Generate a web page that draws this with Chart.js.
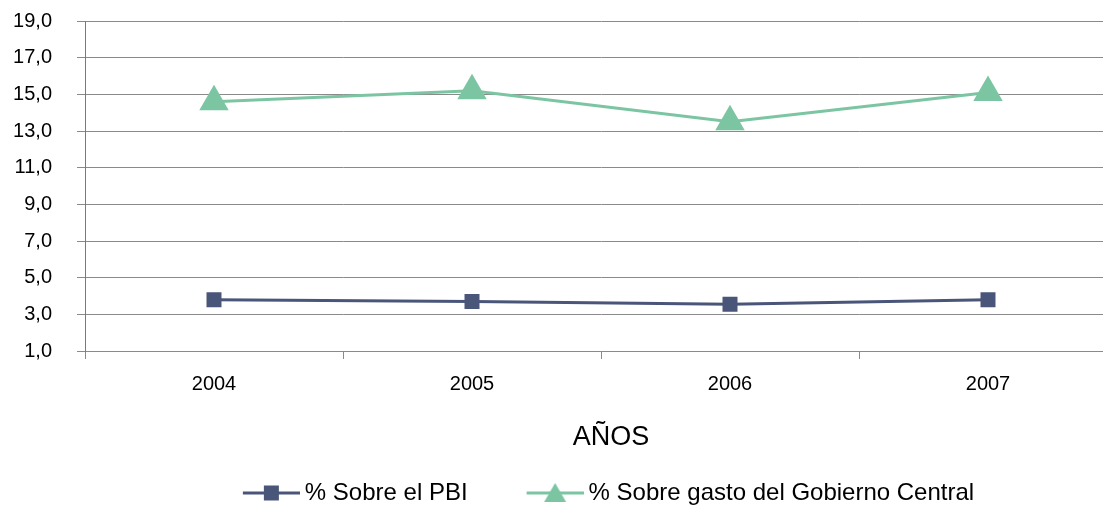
<!DOCTYPE html>
<html><head><meta charset="utf-8">
<script src="https://cdn.jsdelivr.net/npm/chart.js@4/dist/chart.umd.min.js"></script>
<style>
html,body{margin:0;padding:0;overflow:hidden;background:#fff;width:1103px;height:505px}
#wrap{position:absolute;left:0;top:0;width:1168px;height:515px}
</style></head><body>
<div id="wrap"><canvas id="c" width="1168" height="515"></canvas></div>
<script>
const categories = ['2004', '2005', '2006', '2007'];
const pbiValues = [3.8, 3.7, 3.55, 3.8];
const gastoValues = [14.6, 15.2, 13.5, 15.1];
const yTickValues = [1, 3, 5, 7, 9, 11, 13, 15, 17, 19];
const seriesNames = ['% Sobre el PBI', '% Sobre gasto del Gobierno Central'];
const xTitle = 'AÑOS';

const blue = '#4a5679';
const green = '#7cc5a2';
const gridColor = '#8a8a8a';
const FONT = "'Liberation Sans', Arial, sans-serif";

const LEG_W = 99, LEG_P = 10;
function legendIcon(color, shape) {
  const c = document.createElement('canvas');
  c.width = LEG_W + 14; c.height = 24;
  const g = c.getContext('2d');
  const x0 = c.width - 57, cx = x0 + 28.5;
  g.strokeStyle = color; g.lineWidth = 3;
  g.beginPath(); g.moveTo(x0, 12); g.lineTo(c.width, 12); g.stroke();
  g.fillStyle = color;
  if (shape === 'rect') {
    g.fillRect(cx - 7.5, 12 - 7.5, 15, 15);
  } else {
    g.beginPath(); g.moveTo(cx, 2); g.lineTo(cx + 11, 21); g.lineTo(cx - 11, 21); g.closePath(); g.fill();
  }
  return c;
}
const icons = [legendIcon(blue, 'rect'), legendIcon(green, 'tri')];

const axisTitlePlugin = {
  id: 'axisTitle',
  afterDraw(chart) {
    const ctx = chart.ctx;
    ctx.save();
    ctx.font = "27px " + FONT;
    ctx.fillStyle = '#000';
    ctx.textAlign = 'center';
    ctx.textBaseline = 'middle';
    ctx.fillText(xTitle, 611, chart.chartArea.bottom + 87);
    ctx.restore();
  }
};

new Chart(document.getElementById('c'), {
  type: 'line',
  data: {
    labels: categories,
    datasets: [
      {
        label: seriesNames[0], data: pbiValues,
        borderColor: blue, backgroundColor: blue, borderWidth: 3,
        pointStyle: 'rect', pointRadius: 10.6, pointHoverRadius: 10.6,
        pointBackgroundColor: blue, pointBorderWidth: 0, tension: 0
      },
      {
        label: seriesNames[1], data: gastoValues,
        borderColor: green, backgroundColor: green, borderWidth: 3,
        pointStyle: 'triangle', pointRadius: 17, pointHoverRadius: 17,
        pointBackgroundColor: green, pointBorderWidth: 0, tension: 0
      }
    ]
  },
  plugins: [axisTitlePlugin],
  options: {
    responsive: false,
    animation: false,
    layout: { autoPadding: false, padding: { top: 21, left: 0, right: 0, bottom: 0 } },
    scales: {
      x: {
        type: 'category',
        offset: true,
        afterFit: s => { s.height = 120; },
        grid: { display: true, drawOnChartArea: false, drawTicks: true, tickLength: 8, color: gridColor, offset: true },
        border: { display: true, color: gridColor, width: 1 },
        ticks: { font: { family: FONT, size: 20 }, color: '#000', padding: 13, maxRotation: 0 }
      },
      y: {
        type: 'linear',
        position: 'left',
        min: 1, max: 19,
        afterBuildTicks: s => { s.ticks = yTickValues.map(v => ({ value: v })); },
        afterFit: s => { s.width = 85; s.paddingTop = 0; s.paddingBottom = 0; },
        grid: { color: gridColor, tickLength: 8, drawTicks: true },
        border: { display: true, color: '#7a7a7a', width: 1 },
        ticks: {
          font: { family: FONT, size: 20 }, color: '#000', padding: 25,
          callback: v => v.toFixed(1).replace('.', ',')
        }
      },
      yRight: {
        type: 'linear', position: 'right', display: true,
        grid: { display: false }, border: { display: false },
        ticks: { display: false },
        afterFit: s => { s.width = 51; s.paddingTop = 0; s.paddingBottom = 0; }
      }
    },
    plugins: {
      tooltip: { enabled: false },
      title: { display: false },
      legend: {
        display: true, position: 'bottom',
        labels: {
          usePointStyle: true, pointStyleWidth: LEG_W, padding: LEG_P,
          font: { family: FONT, size: 24 }, color: '#000',
          generateLabels: chart => chart.data.datasets.map((ds, i) => ({
            text: ds.label, pointStyle: icons[i], fillStyle: ds.borderColor,
            strokeStyle: ds.borderColor, lineWidth: 0, hidden: false, datasetIndex: i, fontColor: '#000'
          }))
        }
      }
    }
  }
});
</script>
</body></html>
